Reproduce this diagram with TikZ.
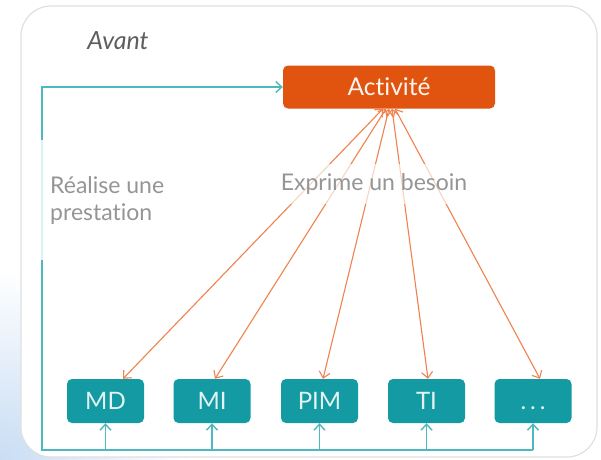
\documentclass[tikz,border=0pt]{standalone}
\usepackage{fontspec}
\setmainfont{Lato}[Ligatures=NoCommon]
\usetikzlibrary{arrows.meta,calc}
\definecolor{actfill}{HTML}{E1540F}
\definecolor{tealbox}{HTML}{139AA2}
\definecolor{tealline}{HTML}{4DB8C0}
\definecolor{orline}{HTML}{F0824F}
\definecolor{lbl}{HTML}{959595}
\definecolor{avant}{HTML}{5E5E5E}
\definecolor{bluebg}{HTML}{C9DDF4}
\tikzset{
  actbox/.style={fill=actfill, rounded corners=5pt, minimum width=212pt, minimum height=43pt, inner sep=0pt, text=white!94!actfill, font=\fontsize{24.5}{28}\selectfont},
  unitbox/.style={fill=tealbox, rounded corners=5pt, minimum width=77pt, minimum height=44pt, inner sep=0pt, text=white!88!tealbox, font=\fontsize{24}{28}\selectfont},
  orarrow/.style={draw=orline, line width=1.1pt, {Straight Barb[length=6pt,width=11pt]}-{Straight Barb[length=6pt,width=11pt]}},
  tline/.style={draw=tealline, line width=1.4pt},
  tarrow/.style={tline, -{Straight Barb[length=6pt,width=11pt]}},
  lbltext/.style={fill=white, fill opacity=0.65, text opacity=1, text=lbl, font=\fontsize{23}{27}\selectfont}
}
\begin{document}
\begin{tikzpicture}[x=1pt,y=-1pt]
\useasboundingbox (0,0) rectangle (601,459);
\begin{scope}
\clip (0,0) rectangle (601,459);
\shade[inner color=bluebg, outer color=white] (0,459) circle (190pt);
\end{scope}
\draw[draw=black!12, line width=1.2pt, fill=white, rounded corners=30pt] (21,6) rectangle (597,457);

\node[font=\fontsize{25}{28}\selectfont\itshape, text=avant] (avant) at (118,41) {Avant};

\node[actbox] (act) at (389,87) {Activité};

\node[unitbox] (md)  at (105.5,401) {MD};
\node[unitbox] (mi)  at (212,401) {MI};
\node[unitbox] (pim) at (319.5,401) {PIM};
\node[unitbox] (ti)  at (426.5,401) {TI};
\node[unitbox] (etc) at (533,401) {\vphantom{M}.\,.\,.};

% orange links
\draw[orarrow] ([xshift=-6pt]act.south) -- ([xshift=17.5pt]md.north);
\draw[orarrow] ([xshift=-3pt]act.south) -- ([xshift=3pt]mi.north);
\draw[orarrow] ([xshift=0pt]act.south) -- ([xshift=3.5pt]pim.north);
\draw[orarrow] ([xshift=3pt]act.south) -- ([xshift=1.5pt]ti.north);
\draw[orarrow] ([xshift=6pt]act.south) -- ([xshift=7pt]etc.north);

% teal loop
\coordinate (bl) at (42,450);
\coordinate (tl) at (42,87);
\coordinate (mdb) at (md.south |- bl);
\coordinate (mib) at (mi.south |- bl);
\coordinate (pimb) at (pim.south |- bl);
\coordinate (tib) at (ti.south |- bl);
\coordinate (etcb) at (etc.south |- bl);
\draw[tarrow] (etcb) -- (bl) -- (tl) -- (act.west);
\draw[tarrow] (mdb) -- (md.south);
\draw[tarrow] (mib) -- (mi.south);
\draw[tarrow] (pimb) -- (pim.south);
\draw[tarrow] (tib) -- (ti.south);
\draw[tarrow] (etcb) -- (etc.south);

% labels
\node[lbltext, align=left, anchor=west, minimum height=120pt, inner xsep=12pt, fill opacity=0.8] (real) at (38,200) {Réalise une\\prestation};
\node[lbltext, minimum height=40pt, inner xsep=8pt] (expr) at (374,184) {Exprime un besoin};
\end{tikzpicture}
\end{document}
